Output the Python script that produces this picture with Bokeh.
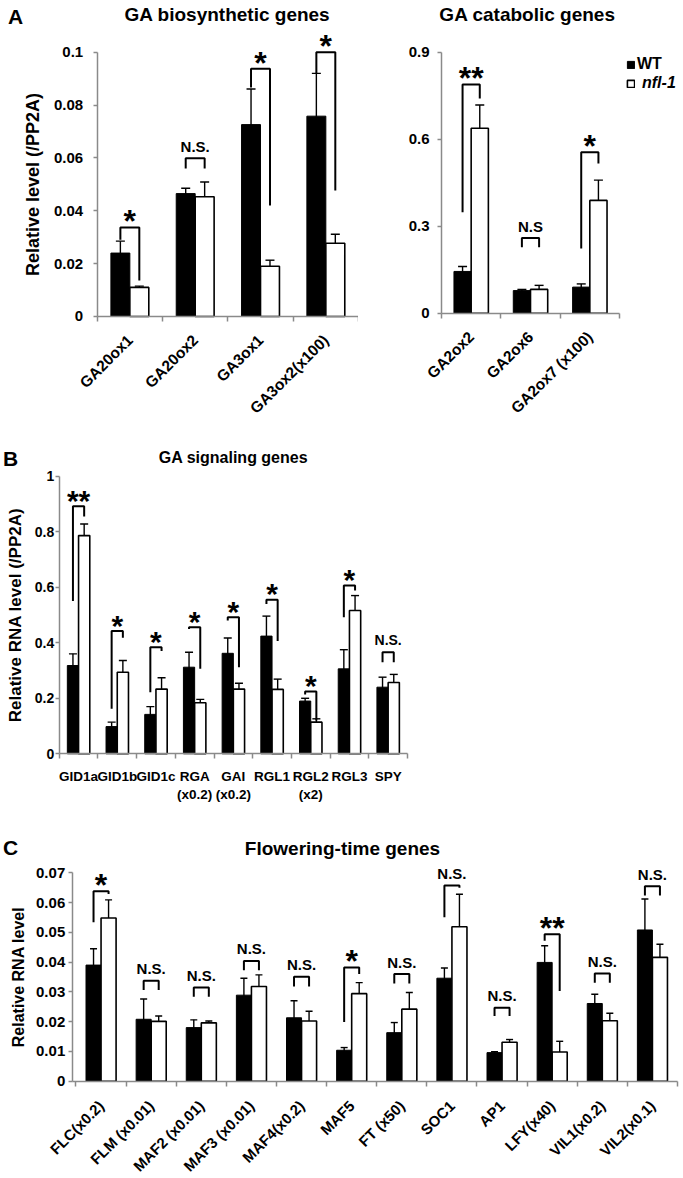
import numpy as np
from bokeh.plotting import figure
from bokeh.models import (ColumnDataSource, FixedTicker, Whisker, TeeHead,
                          Legend, LegendItem)
from bokeh.layouts import column, row
from bokeh.core.properties import value
from bokeh.embed import file_html
from bokeh.resources import INLINE

FONT = "Liberation Sans"
GREY = "#8a8a8a"

# ---------------- Panel A (left): GA biosynthetic genes ----------------
a1_genes = ["GA20ox1", "GA20ox2", "GA3ox1", "GA3ox2(x100)"]
a1_wt = [0.0240, 0.0465, 0.0726, 0.0758]
a1_wt_err = [0.0045, 0.0020, 0.0135, 0.0162]
a1_nfl = [0.0110, 0.0453, 0.0190, 0.0277]
a1_nfl_err = [0.0005, 0.0056, 0.0023, 0.0034]
a1_sig = ["*", "N.S.", "*", "*"]
a1_br_top = [0.0337, 0.0599, 0.0937, 0.1000]
a1_br_left = [0.0290, 0.0560, 0.0866, 0.0920]
a1_br_right = [0.0136, 0.0560, 0.0420, 0.0477]
a1_yticks = [0, 0.02, 0.04, 0.06, 0.08, 0.1]
a1_yticklabels = ["0", "0.02", "0.04", "0.06", "0.08", "0.1"]

# ---------------- Panel A (right): GA catabolic genes ----------------
a2_genes = ["GA2ox2", "GA2ox6", "GA2ox7 (x100)"]
a2_wt = [0.144, 0.078, 0.090]
a2_wt_err = [0.017, 0.004, 0.011]
a2_nfl = [0.638, 0.082, 0.389]
a2_nfl_err = [0.080, 0.014, 0.070]
a2_sig = ["**", "N.S", "*"]
a2_br_top = [0.789, 0.259, 0.555]
a2_br_left = [0.348, 0.227, 0.223]
a2_br_right = [0.740, 0.227, 0.516]
a2_yticks = [0, 0.3, 0.6, 0.9]
a2_yticklabels = ["0", "0.3", "0.6", "0.9"]

# ---------------- Panel B: GA signaling genes ----------------
b_genes = ["GID1a", "GID1b", "GID1c", "RGA\n(x0.2)", "GAI\n(x0.2)", "RGL1",
           "RGL2\n(x2)", "RGL3", "SPY"]
b_wt = [0.318, 0.098, 0.142, 0.312, 0.362, 0.424, 0.190, 0.306, 0.240]
b_wt_err = [0.042, 0.016, 0.028, 0.054, 0.055, 0.072, 0.010, 0.069, 0.036]
b_nfl = [0.786, 0.294, 0.233, 0.184, 0.233, 0.232, 0.114, 0.516, 0.257]
b_nfl_err = [0.042, 0.042, 0.041, 0.012, 0.021, 0.037, 0.012, 0.054, 0.029]
b_sig = ["**", "*", "*", "*", "*", "*", "*", "*", "N.S."]
b_br_top = [0.892, 0.442, 0.384, 0.456, 0.492, 0.555, 0.224, 0.606, 0.366]
b_br_left = [0.550, 0.162, 0.222, 0.450, 0.480, 0.540, 0.214, 0.492, 0.330]
b_br_right = [0.855, 0.418, 0.370, 0.306, 0.312, 0.406, 0.120, 0.588, 0.330]
b_yticks = [0, 0.2, 0.4, 0.6, 0.8, 1.0]
b_yticklabels = ["0", "0.2", "0.4", "0.6", "0.8", "1"]

# ---------------- Panel C: Flowering-time genes ----------------
c_genes = ["FLC(x0.2)", "FLM (x0.01)", "MAF2 (x0.01)", "MAF3 (x0.01)", "MAF4(x0.2)",
           "MAF5", "FT (x50)", "SOC1", "AP1", "LFY(x40)", "VIL1(x0.2)", "VIL2(x0.1)"]
c_wt = [0.0390, 0.0208, 0.0180, 0.0289, 0.0213, 0.0104, 0.0163, 0.0346, 0.0096,
        0.0399, 0.0261, 0.0508]
c_wt_err = [0.0055, 0.0068, 0.0026, 0.0057, 0.0057, 0.0009, 0.0034, 0.0034, 0.0003,
            0.0056, 0.0031, 0.0104]
c_nfl = [0.0548, 0.0201, 0.0196, 0.0318, 0.0202, 0.0294, 0.0242, 0.0519, 0.0131,
         0.0098, 0.0203, 0.0416]
c_nfl_err = [0.0061, 0.0018, 0.0006, 0.0039, 0.0033, 0.0037, 0.0056, 0.0109, 0.0009,
             0.0036, 0.0025, 0.0044]
c_sig = ["*", "N.S.", "N.S.", "N.S.", "N.S.", "*", "N.S.", "N.S.", "N.S.", "**",
         "N.S.", "N.S."]
c_br_top = [0.0638, 0.0337, 0.0315, 0.0404, 0.0351, 0.0382, 0.0360, 0.0657, 0.0247,
            0.0494, 0.0362, 0.0655]
c_br_left = [0.0534, 0.0306, 0.0284, 0.0373, 0.0318, 0.0199, 0.0328, 0.0551, 0.0219,
             0.0472, 0.0331, 0.0624]
c_br_right = [0.0629, 0.0306, 0.0284, 0.0373, 0.0318, 0.0360, 0.0328, 0.0650, 0.0219,
              0.0303, 0.0331, 0.0624]
c_yticks = [0, 0.01, 0.02, 0.03, 0.04, 0.05, 0.06, 0.07]
c_yticklabels = ["0", "0.01", "0.02", "0.03", "0.04", "0.05", "0.06", "0.07"]


def panel(genes, wt, wt_err, nfl, nfl_err, sig, br_top, br_left, br_right,
          yticks, yticklabels, st):
    n = len(genes)
    idx = np.arange(n)
    wt, wt_err, nfl, nfl_err = map(np.asarray, (wt, wt_err, nfl, nfl_err))
    p = figure(width=st["w"], height=st["h"],
               x_range=st["xr"], y_range=st["yr"],
               min_border=0, min_border_left=0, min_border_right=0,
               min_border_top=0, min_border_bottom=0,
               output_backend="svg", toolbar_location=None)
    p.grid.visible = False
    p.outline_line_color = None
    off = st["bar_w"] / 2
    src = ColumnDataSource(dict(x_wt=idx - off, x_nfl=idx + off, wt=wt, nfl=nfl))
    r_wt = p.vbar(x="x_wt", top="wt", width=st["bar_w"], source=src,
                  fill_color="black", line_color="black", line_width=1)
    r_nfl = p.vbar(x="x_nfl", top="nfl", width=st["bar_w"], source=src,
                   fill_color="white", line_color="black", line_width=1.6)
    wsrc = ColumnDataSource(dict(
        base=np.concatenate([idx - off, idx + off]),
        lower=np.concatenate([wt - wt_err, nfl - nfl_err]),
        upper=np.concatenate([wt + wt_err, nfl + nfl_err])))
    head = dict(size=st["cap"], line_color="black", line_width=1.4)
    p.add_layout(Whisker(source=wsrc, base="base", lower="lower", upper="upper",
                         dimension="height", line_color="black", line_width=1.4,
                         upper_head=TeeHead(**head), lower_head=TeeHead(**head)))
    # significance brackets
    xs = [[i - off, i - off, i + off, i + off] for i in idx]
    ys = [[l, t, t, r] for l, t, r in zip(br_left, br_top, br_right)]
    p.multi_line(xs, ys, line_color="black", line_width=2)
    star_i = [i for i, s in enumerate(sig) if s.startswith("*")]
    ns_i = [i for i, s in enumerate(sig) if not s.startswith("*")]
    for sel, size, dy in ((star_i, st["star"], st["star_dy"]), (ns_i, st["ns"], st["ns_dy"])):
        if sel:
            p.text(x=[int(idx[i]) for i in sel], y=[br_top[i] for i in sel],
                   text=[sig[i] for i in sel], text_align="center",
                   text_baseline="alphabetic", text_font=value(FONT),
                   text_font_style="bold", text_font_size=size, y_offset=dy,
                   text_color="black")
    # x axis: labels at category centres, ticks at category boundaries
    xa = p.xaxis[0]
    xa.fixed_location = 0
    xa.ticker = FixedTicker(ticks=[int(i) for i in idx],
                            minor_ticks=[float(i) - 0.5 for i in range(n + 1)])
    xa.major_label_overrides = {int(i): g for i, g in zip(idx, genes)}
    xa.major_tick_in = 0
    xa.major_tick_out = 0
    xa.minor_tick_in = 0
    xa.minor_tick_out = 5
    xa.minor_tick_line_color = GREY
    xa.minor_tick_line_width = 1.5
    xa.axis_line_color = GREY
    xa.axis_line_width = 1.5
    xa.bounds = (st.get("yaxis_at", -0.5), n - 0.5)
    xa.major_label_orientation = st["xangle"]
    xa.major_label_standoff = st["xstand"]
    xa.major_label_text_font = FONT
    xa.major_label_text_font_style = "bold"
    xa.major_label_text_font_size = st["xfont"]
    xa.major_label_text_color = "black"
    ya = p.yaxis[0]
    ya.fixed_location = st.get("yaxis_at", -0.5)
    ya.ticker = FixedTicker(ticks=list(yticks), minor_ticks=[])
    ya.major_label_overrides = {float(v): lab for v, lab in zip(yticks, yticklabels)}
    ya.bounds = (0, yticks[-1])
    ya.axis_line_color = GREY
    ya.axis_line_width = 1.5
    ya.major_tick_line_color = GREY
    ya.major_tick_line_width = 1.5
    ya.major_tick_in = 0
    ya.major_tick_out = 4
    ya.minor_tick_out = 0
    ya.minor_tick_in = 0
    ya.major_label_standoff = st["ystand"]
    ya.major_label_text_font = FONT
    ya.major_label_text_font_style = "bold"
    ya.major_label_text_font_size = st["yfont"]
    ya.major_label_text_color = "black"
    if st.get("ylabel"):
        ya.axis_label = st["ylabel"]
        ya.axis_label_text_font = FONT
        ya.axis_label_text_font_style = "bold"
        ya.axis_label_text_font_size = st["ylabel_font"]
        ya.axis_label_text_color = "black"
        ya.axis_label_standoff = st["ylabel_stand"]
    return p, r_wt, r_nfl


def add_text(p, x, y, text, size):
    p.text(x=[x], y=[y], text=[text], text_font=value(FONT), text_font_style="bold",
           text_font_size=size, text_align="center", text_baseline="middle",
           text_color="black")


# ---- panel A left: 358 x 420 px ----
st_a1 = dict(w=358, h=420, xr=(-1.980, 3.5), yr=(-0.03935, 0.11956), bar_w=0.29,
             cap=9, star="32px", star_dy=-6, ns="15px", ns_dy=-12,
             xangle=np.pi / 4, xstand=16, xfont="15.5px", ystand=10, yfont="15px",
             ylabel="Relative level (/PP2A)", ylabel_font="18px", ylabel_stand=8)
pa1, _, _ = panel(a1_genes, a1_wt, a1_wt_err, a1_nfl, a1_nfl_err, a1_sig,
                  a1_br_top, a1_br_left, a1_br_right, a1_yticks, a1_yticklabels, st_a1)
add_text(pa1, -1.751, 0.1135, "A", "21px")
add_text(pa1, 1.494, 0.1143, "GA biosynthetic genes", "19px")

# ---- panel A right: 324 x 420 px ----
st_a2 = dict(w=324, h=420, xr=(-1.899, 3.562), yr=(-0.3700, 1.0783), bar_w=0.29,
             cap=9, star="32px", star_dy=-6, ns="15px", ns_dy=-12,
             xangle=np.pi / 4, xstand=16, xfont="15.5px", ystand=8, yfont="15px")
pa2, r_wt, r_nfl = panel(a2_genes, a2_wt, a2_wt_err, a2_nfl, a2_nfl_err, a2_sig,
                         a2_br_top, a2_br_left, a2_br_right, a2_yticks, a2_yticklabels, st_a2)
add_text(pa2, 0.95, 1.030, "GA catabolic genes", "19px")
leg_common = dict(padding=0, margin=0, spacing=0, border_line_color=None,
                  background_fill_alpha=0, glyph_width=9, glyph_height=9,
                  label_height=16, label_text_font=FONT, label_text_font_size="16px",
                  label_text_color="black")
pa2.add_layout(Legend(items=[LegendItem(label="WT", renderers=[r_wt])],
                      location=(268, 347), label_standoff=2,
                      label_text_font_style="bold", **leg_common))
pa2.add_layout(Legend(items=[LegendItem(label="nfl-1", renderers=[r_nfl])],
                      location=(268, 328), label_standoff=7,
                      label_text_font_style="bold italic", **leg_common))

# ---- panel B: 420 x 395 px ----
st_b = dict(w=420, h=395, xr=(-2.017, 8.836), yr=(-0.2223, 1.2007), bar_w=0.29,
            cap=8, star="30px", star_dy=-6, ns="14px", ns_dy=-12,
            xangle="horizontal", xstand=10, xfont="13.5px", ystand=1, yfont="14px",
            ylabel="Relative RNA level (/PP2A)", ylabel_font="17px", ylabel_stand=7)
pb, _, _ = panel(b_genes, b_wt, b_wt_err, b_nfl, b_nfl_err, b_sig,
                 b_br_top, b_br_left, b_br_right, b_yticks, b_yticklabels, st_b)
add_text(pb, -1.758, 1.0638, "B", "21px")
add_text(pb, 4.004, 1.0674, "GA signaling genes", "16px")

# ---- panel C: 682 x 362 px ----
st_c = dict(w=682, h=362, xr=(-2.006, 11.60), yr=(-0.03235, 0.08925), bar_w=0.30,
            cap=7, star="32px", star_dy=-6, ns="15px", ns_dy=-12, yaxis_at=-0.575,
            xangle=np.pi / 4, xstand=17, xfont="15px", ystand=3, yfont="15px",
            ylabel="Relative RNA level", ylabel_font="16px", ylabel_stand=6)
pc, _, _ = panel(c_genes, c_wt, c_wt_err, c_nfl, c_nfl_err, c_sig,
                 c_br_top, c_br_left, c_br_right, c_yticks, c_yticklabels, st_c)
add_text(pc, -1.807, 0.0785, "C", "21px")
add_text(pc, 4.817, 0.0782, "Flowering-time genes", "19px")

layout = column(row(pa1, pa2, spacing=0), pb, pc, spacing=0)
open("out.html", "w").write(file_html(layout, INLINE))
